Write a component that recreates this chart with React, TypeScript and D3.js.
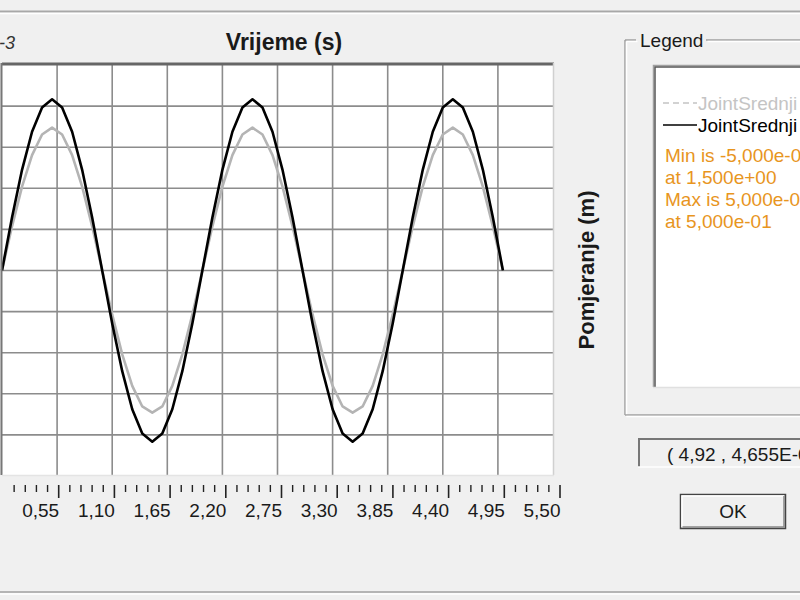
import React, { useEffect, useRef } from "react";
import * as d3 from "d3";

// ---- data (values in 1e-3 m) ----
const times = [
  0, 0.1, 0.2, 0.3, 0.4, 0.5, 0.6, 0.7, 0.8, 0.9,
  1.0, 1.1, 1.2, 1.3, 1.4, 1.5, 1.6, 1.7, 1.8, 1.9,
  2.0, 2.1, 2.2, 2.3, 2.4, 2.5, 2.6, 2.7, 2.8, 2.9,
  3.0, 3.1, 3.2, 3.3, 3.4, 3.5, 3.6, 3.7, 3.8, 3.9,
  4.0, 4.1, 4.2, 4.3, 4.4, 4.5, 4.6, 4.7, 4.8, 4.9, 5.0,
];
const blackSeries = [
  0, 1.55, 2.94, 4.05, 4.76, 5.0, 4.76, 4.05, 2.94, 1.55,
  0, -1.55, -2.94, -4.05, -4.76, -5.0, -4.76, -4.05, -2.94, -1.55,
  0, 1.55, 2.94, 4.05, 4.76, 5.0, 4.76, 4.05, 2.94, 1.55,
  0, -1.55, -2.94, -4.05, -4.76, -5.0, -4.76, -4.05, -2.94, -1.55,
  0, 1.55, 2.94, 4.05, 4.76, 5.0, 4.76, 4.05, 2.94, 1.55, 0,
];
const graySeries = [
  0, 1.29, 2.45, 3.37, 3.97, 4.17, 3.97, 3.37, 2.45, 1.29,
  0, -1.29, -2.45, -3.37, -3.97, -4.15, -3.97, -3.37, -2.45, -1.29,
  0, 1.29, 2.45, 3.37, 3.97, 4.17, 3.97, 3.37, 2.45, 1.29,
  0, -1.29, -2.45, -3.37, -3.97, -4.15, -3.97, -3.37, -2.45, -1.29,
  0, 1.29, 2.45, 3.37, 3.97, 4.17, 3.97, 3.37, 2.45, 1.29, 0,
];
const xTickLabels = ["0,55", "1,10", "1,65", "2,20", "2,75", "3,30", "3,85", "4,40", "4,95", "5,50"];
const xMajorTicks = [0.55, 1.1, 1.65, 2.2, 2.75, 3.3, 3.85, 4.4, 4.95, 5.5];
const yGridValues = [-4.8, -3.6, -2.4, -1.2, 0, 1.2, 2.4, 3.6, 4.8];
const legendNames = ["JointSrednji", "JointSrednji"];
const legendInfo = ["Min is -5,000e-03", "at 1,500e+00", "Max is 5,000e-03", "at 5,000e-01"];
const cursorText = "( 4,92 , 4,655E-03 )";

const FONT = "'Liberation Sans', Arial, sans-serif";

export default function App() {
  const ref = useRef<SVGSVGElement>(null);

  useEffect(() => {
    const svg = d3.select(ref.current);
    svg.selectAll("*").remove();

    const W = 800, H = 600;
    svg.append("rect").attr("width", W).attr("height", H).attr("fill", "#f0f0f0");

    // dialog separator lines
    svg.append("line").attr("x1", 0).attr("x2", W).attr("y1", 11.5).attr("y2", 11.5).attr("stroke", "#a8a8a8").attr("stroke-width", 2);
    svg.append("line").attr("x1", 0).attr("x2", W).attr("y1", 13.5).attr("y2", 13.5).attr("stroke", "#ffffff").attr("stroke-width", 1.5);
    svg.append("line").attr("x1", 0).attr("x2", W).attr("y1", 592).attr("y2", 592).attr("stroke", "#b4b4b4").attr("stroke-width", 2);
    svg.append("line").attr("x1", 0).attr("x2", W).attr("y1", 594).attr("y2", 594).attr("stroke", "#ffffff").attr("stroke-width", 1.5);

    // scales
    const x = d3.scaleLinear().domain([0, 5.5]).range([2, 553]);
    const xAxisScale = d3.scaleLinear().domain([0, 5.5]).range([3, 560]);
    const y = d3.scaleLinear().domain([-6, 6]).range([476, 65]);

    // plot area
    const plotTop = 63, plotBottom = 475, plotLeft = 2, plotRight = 553;
    svg.append("rect").attr("x", plotLeft).attr("y", plotTop).attr("width", plotRight - plotLeft).attr("height", plotBottom - plotTop).attr("fill", "#ffffff");

    const g = svg.append("g");
    // grid
    g.selectAll(".vg").data(xMajorTicks.slice(0, -1)).enter().append("line")
      .attr("x1", (d) => x(d)).attr("x2", (d) => x(d))
      .attr("y1", plotTop).attr("y2", plotBottom)
      .attr("stroke", "#8c8c8c").attr("stroke-width", 1.6);
    g.selectAll(".hg").data(yGridValues).enter().append("line")
      .attr("x1", plotLeft).attr("x2", plotRight)
      .attr("y1", (d) => y(d)).attr("y2", (d) => y(d))
      .attr("stroke", "#8c8c8c").attr("stroke-width", 1.6);

    // borders
    svg.append("line").attr("x1", plotLeft).attr("x2", plotRight + 1).attr("y1", 64).attr("y2", 64).attr("stroke", "#666666").attr("stroke-width", 3);
    svg.append("line").attr("x1", 1.5).attr("x2", 1.5).attr("y1", 63).attr("y2", plotBottom).attr("stroke", "#777777").attr("stroke-width", 2);
    svg.append("line").attr("x1", plotRight + 0.5).attr("x2", plotRight + 0.5).attr("y1", 63).attr("y2", plotBottom).attr("stroke", "#d0d0d0").attr("stroke-width", 1.5);
    svg.append("line").attr("x1", plotLeft).attr("x2", plotRight + 1).attr("y1", plotBottom + 0.5).attr("y2", plotBottom + 0.5).attr("stroke", "#e4e4e4").attr("stroke-width", 1.5);

    // lines
    const line = d3.line<number>().x((_, i) => x(times[i])).y((d) => y(d));
    g.append("path").datum(graySeries).attr("d", line).attr("fill", "none")
      .attr("stroke", "#b4b4b4").attr("stroke-width", 2.6).attr("stroke-linejoin", "round");
    g.append("path").datum(blackSeries).attr("d", line).attr("fill", "none")
      .attr("stroke", "#000000").attr("stroke-width", 2.6).attr("stroke-linejoin", "round");

    // x axis ticks
    const minorTicks = d3.range(1, 51).filter((k) => k % 5 !== 0).map((k) => k * 0.11);
    svg.selectAll(".mt").data(minorTicks).enter().append("line")
      .attr("x1", (d) => xAxisScale(d)).attr("x2", (d) => xAxisScale(d))
      .attr("y1", 485).attr("y2", 492).attr("stroke", "#222").attr("stroke-width", 1.4);
    svg.selectAll(".Mt").data(xMajorTicks).enter().append("line")
      .attr("x1", (d) => xAxisScale(d)).attr("x2", (d) => xAxisScale(d))
      .attr("y1", 485).attr("y2", 498).attr("stroke", "#222").attr("stroke-width", 1.6);
    svg.selectAll(".tl").data(xMajorTicks).enter().append("text")
      .attr("x", (d) => xAxisScale(d) + 0.5).attr("y", 517)
      .attr("text-anchor", "end").attr("font-family", FONT).attr("font-size", 19)
      .attr("fill", "#1a1a1a")
      .text((_, i) => xTickLabels[i]);

    // title
    svg.append("text").attr("x", 284).attr("y", 50).attr("text-anchor", "middle")
      .attr("font-family", FONT).attr("font-weight", "bold").attr("font-size", 23)
      .attr("fill", "#1a1a1a").text("Vrijeme (s)");

    // top-left exponent fragment (cut by the dialog edge)
    svg.append("text").attr("x", 15).attr("y", 49).attr("text-anchor", "end")
      .attr("font-family", FONT).attr("font-style", "italic").attr("font-size", 18)
      .attr("fill", "#333").text("E-3");

    // y axis label
    svg.append("text").attr("transform", "translate(594,270) rotate(-90)")
      .attr("text-anchor", "middle").attr("font-family", FONT).attr("font-weight", "bold")
      .attr("font-size", 22).attr("fill", "#1a1a1a").text("Pomjeranje (m)");

    // legend group box (etched)
    const gb = svg.append("g");
    const gbL = 625, gbT = 40, gbB = 415;
    const etched = (x1: number, y1: number, x2: number, y2: number) => {
      gb.append("line").attr("x1", x1).attr("y1", y1).attr("x2", x2).attr("y2", y2).attr("stroke", "#a0a0a0").attr("stroke-width", 1.5);
      gb.append("line").attr("x1", x1 + 1.5).attr("y1", y1 + 1.5).attr("x2", x2 + 1.5).attr("y2", y2 + 1.5).attr("stroke", "#ffffff").attr("stroke-width", 1.5);
    };
    etched(gbL, gbT, gbL, gbB);
    etched(gbL, gbB, W, gbB);
    etched(gbL, gbT, 636, gbT);
    etched(706, gbT, W, gbT);
    gb.append("text").attr("x", 640).attr("y", 47).attr("font-family", FONT).attr("font-size", 19)
      .attr("fill", "#1a1a1a").text("Legend");

    // inner white box (sunken)
    svg.append("rect").attr("x", 653).attr("y", 65).attr("width", W - 653).attr("height", 387 - 65).attr("fill", "#ffffff");
    svg.append("path").attr("d", "M653.5,387 V65.5 H800").attr("fill", "none").attr("stroke", "#a0a0a0").attr("stroke-width", 1.5);
    svg.append("path").attr("d", "M655,387 V67 H800").attr("fill", "none").attr("stroke", "#555555").attr("stroke-width", 1.5);
    svg.append("line").attr("x1", 653).attr("x2", W).attr("y1", 387.5).attr("y2", 387.5).attr("stroke", "#e0e0e0").attr("stroke-width", 1.5);

    // legend entries
    const legendColors = ["#c4c4c4", "#000000"];
    const legendDash = ["6,4", null];
    legendNames.forEach((name, i) => {
      const ly = 110 + i * 22;
      const ln = svg.append("line").attr("x1", 663).attr("x2", 697).attr("y1", ly - 7).attr("y2", ly - 7)
        .attr("stroke", legendColors[i]).attr("stroke-width", 1.6);
      if (legendDash[i]) ln.attr("stroke-dasharray", legendDash[i] as string);
      svg.append("text").attr("x", 698).attr("y", ly).attr("font-family", FONT).attr("font-size", 19)
        .attr("fill", legendColors[i]).text(name);
    });
    legendInfo.forEach((t, i) => {
      svg.append("text").attr("x", 665).attr("y", 162 + i * 22).attr("font-family", FONT).attr("font-size", 19)
        .attr("fill", "#e8951e").text(t);
    });

    // cursor readout box
    svg.append("rect").attr("x", 638).attr("y", 438).attr("width", W - 638).attr("height", 29).attr("fill", "#f0f0f0");
    svg.append("path").attr("d", "M639,467 V439 H800").attr("fill", "none").attr("stroke", "#777777").attr("stroke-width", 2);
    svg.append("line").attr("x1", 638).attr("x2", W).attr("y1", 467).attr("y2", 467).attr("stroke", "#ffffff").attr("stroke-width", 1.5);
    svg.append("text").attr("x", 667).attr("y", 461).attr("font-family", FONT).attr("font-size", 19)
      .attr("fill", "#1a1a1a").text(cursorText);

    // OK button
    svg.append("rect").attr("x", 680.5).attr("y", 494.5).attr("width", 105).attr("height", 34)
      .attr("fill", "#f0f0f0").attr("stroke", "#444444").attr("stroke-width", 1.5);
    svg.append("path").attr("d", "M682,527 V496 H784").attr("fill", "none").attr("stroke", "#ffffff").attr("stroke-width", 1.5);
    svg.append("path").attr("d", "M682.5,527 H784 V496").attr("fill", "none").attr("stroke", "#888888").attr("stroke-width", 1.5);
    svg.append("text").attr("x", 733).attr("y", 518).attr("text-anchor", "middle").attr("font-family", FONT)
      .attr("font-size", 19).attr("fill", "#1a1a1a").text("OK");
  }, []);

  return (
    <svg
      ref={ref}
      width={800}
      height={600}
      style={{ position: "absolute", left: 0, top: 0, display: "block" }}
    />
  );
}
